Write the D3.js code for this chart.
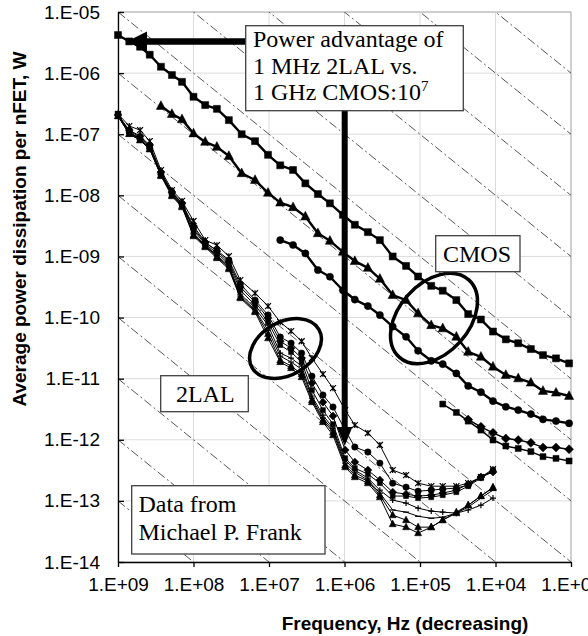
<!DOCTYPE html>
<html>
<head>
<meta charset="utf-8">
<script src="https://cdn.jsdelivr.net/npm/d3@7"></script>
<style>
  body { margin: 0; background: #fff; }
  svg text { font-family: "Liberation Sans", Arial, sans-serif; fill: #000; }
  .note { font-family: "Liberation Serif", "Times New Roman", serif; font-size: 24px; }
</style>
</head>
<body>
<svg id="chart" width="588" height="636"></svg>
<script>
// axis ticks
var xTicks = [1e9, 1e8, 1e7, 1e6, 1e5, 1e4, 1e3];
var yTicks = [1e-14, 1e-13, 1e-12, 1e-11, 1e-10, 1e-9, 1e-8, 1e-7, 1e-6, 1e-5];
// constant-energy guide lines (J per cycle)
var energyLines = [1e-23, 1e-22, 1e-21, 1e-20, 1e-19, 1e-18, 1e-17, 1e-16, 1e-15, 1e-14, 1e-13, 1e-12, 1e-11, 1e-10, 1e-9, 1e-8];

// CMOS frequencies, Hz (series below are aligned to the end of this list)
var cmosFreq = [1.0e9, 7.1e8, 5.1e8, 3.8e8, 2.7e8, 1.93e8, 1.42e8, 1.0e8, 7.0e7, 4.9e7, 3.4e7, 2.3e7, 1.53e7, 1.03e7,
  7.1e6, 4.8e6, 3.3e6, 2.25e6, 1.56e6, 1.05e6, 7.3e5, 4.9e5, 3.4e5, 2.3e5, 1.53e5, 1.06e5, 7.1e4, 5.0e4, 3.3e4,
  2.3e4, 1.56e4, 1.08e4, 7.3e3, 5.0e3, 3.4e3, 2.35e3, 1.58e3, 1.06e3];
var cmosSquare = [4.2e-6, 3.3e-6, 2.7e-6, 2.0e-6, 1.27e-6, 9.3e-7, 7.2e-7, 4.1e-7, 3.0e-7, 2.6e-7, 1.7e-7, 1.0e-7,
  7.7e-8, 4.6e-8, 3.1e-8, 2.6e-8, 1.57e-8, 1.05e-8, 7.4e-9, 4.8e-9, 3.3e-9, 2.5e-9, 1.85e-9, 1.0e-9, 7.0e-10,
  4.7e-10, 3.3e-10, 2.75e-10, 1.93e-10, 1.14e-10, 9.3e-11, 5.9e-11, 4.4e-11, 3.8e-11, 3.05e-11, 2.43e-11, 2.15e-11, 1.78e-11];
var cmosTriangle = [2.9e-7, 2.14e-7, 1.75e-7, 1.03e-7, 7.5e-8, 6.2e-8, 4.4e-8, 2.3e-8, 1.78e-8, 1.1e-8, 7.6e-9,
  6.4e-9, 4.5e-9, 2.4e-9, 1.8e-9, 1.19e-9, 8.4e-10, 6.5e-10, 4.3e-10, 2.33e-10, 1.93e-10, 1.17e-10, 7.5e-11,
  6.65e-11, 4.85e-11, 2.75e-11, 2.28e-11, 1.57e-11, 1.15e-11, 1.01e-11, 8.6e-12, 6.3e-12, 5.9e-12, 5.2e-12];
var cmosCircle = [1.85e-9, 1.54e-9, 1.12e-9, 6.0e-10, 4.65e-10, 2.8e-10, 1.97e-10, 1.54e-10, 1.1e-10, 7.1e-11,
  4.85e-11, 2.86e-11, 1.96e-11, 1.73e-11, 1.22e-11, 7.6e-12, 6.0e-12, 4.3e-12, 3.47e-12, 3.06e-12, 2.63e-12,
  2.16e-12, 2.02e-12, 1.86e-12];
var cmosLowSquare = [3.84e-12, 2.8e-12, 2.02e-12, 1.44e-12, 9.9e-13, 7.9e-13, 7.2e-13, 6.4e-13, 5.3e-13, 4.96e-13, 4.5e-13];
var cmosLowDiamond = [2.14e-12, 1.63e-12, 1.3e-12, 1.05e-12, 9.9e-13, 8.9e-13, 7.5e-13, 7.5e-13, 7.0e-13];

// 2LAL frequencies, Hz
var lalFreq = [1.0e9, 7.1e8, 5.1e8, 3.8e8, 2.7e8, 1.93e8, 1.42e8, 1.0e8, 7.0e7, 4.9e7, 3.4e7, 2.4e7, 1.53e7, 1.03e7,
  7.1e6, 5.1e6, 3.7e6, 2.7e6, 1.93e6, 1.42e6, 9.8e5, 7.3e5, 4.9e5, 3.4e5, 2.3e5, 1.53e5, 1.06e5, 7.1e4, 5.0e4,
  3.3e4, 2.3e4, 1.56e4, 1.08e4];
var lalStar = [2.14e-7, 1.36e-7, 1.17e-7, 7.7e-8, 2.59e-8, 1.22e-8, 8.1e-9, 3.8e-9, 1.85e-9, 1.53e-9, 1.01e-9, 4.1e-10,
  2.51e-10, 1.54e-10, 8.4e-11, 6.0e-11, 4.1e-11, 2.17e-11, 1.19e-11, 7.0e-12, 3.06e-12, 1.74e-12, 1.29e-12, 8.2e-13,
  3.19e-13, 2.64e-13, 1.95e-13, 1.74e-13, 1.74e-13, 1.74e-13, 1.95e-13, 2.45e-13, 3.31e-13];
var lalCircle = [2.14e-7, 1.09e-7, 8.3e-8, 5.9e-8, 2.23e-8, 1.09e-8, 7.2e-9, 2.91e-9, 1.66e-9, 1.27e-9, 8.7e-10, 3.53e-10,
  1.93e-10, 1.1e-10, 4.8e-11, 3.82e-11, 2.62e-11, 1.1e-11, 5.4e-12, 3.43e-12, 1.44e-12, 7.6e-13, 6.3e-13, 4.15e-13,
  1.95e-13, 1.68e-13, 1.44e-13, 1.5e-13, 1.56e-13, 1.62e-13, 1.81e-13, 2.45e-13, 3.07e-13];
var lalSquare = [2.06e-7, 1.13e-7, 9.0e-8, 6.4e-8, 2.31e-8, 1.13e-8, 7.2e-9, 2.7e-9, 1.59e-9, 1.14e-9, 7.5e-10, 2.82e-10,
  1.6e-10, 8.4e-11, 3.54e-11, 2.72e-11, 1.87e-11, 6.5e-12, 3.06e-12, 1.8e-12, 5.0e-13, 3.44e-13, 2.74e-13, 1.95e-13,
  1.2e-13, 1.2e-13, 1.11e-13, 1.15e-13, 1.24e-13, 1.39e-13, 1.74e-13, 2.36e-13, 3.19e-13];
var lalDiamond = [2.06e-7, 1.17e-7, 9.3e-8, 6.65e-8, 2.4e-8, 1.13e-8, 7.5e-9, 3.14e-9, 1.72e-9, 1.22e-9, 8.1e-10, 3.15e-10,
  1.79e-10, 9.8e-11, 4.1e-11, 3.16e-11, 2.17e-11, 8.5e-12, 4.13e-12, 2.44e-12, 6.8e-13, 4.31e-13, 3.19e-13, 2.19e-13,
  1.39e-13, 1.29e-13, 1.2e-13, 1.24e-13, 1.34e-13, 1.5e-13, 1.88e-13, 2.45e-13, 2.96e-13];
var lalPlus = [1.98e-7, 1.05e-7, 8.7e-8, 6.2e-8, 2.23e-8, 1.05e-8, 6.9e-9, 2.41e-9, 1.53e-9, 1.05e-9, 7.0e-10, 2.42e-10,
  1.43e-10, 7.5e-11, 2.62e-11, 2.17e-11, 1.61e-11, 5.2e-12, 2.53e-12, 1.55e-12, 4.65e-13, 3.19e-13, 2.36e-13, 1.5e-13,
  1.03e-13, 9.2e-14, 7.6e-14, 6.8e-14, 6.55e-14, 6.3e-14, 7.1e-14, 8.5e-14, 1.11e-13];
var lalDash = [1.98e-7, 1.05e-7, 8.3e-8, 5.9e-8, 2.15e-8, 1.01e-8, 6.7e-9, 2.32e-9, 1.48e-9, 1.01e-9, 6.7e-10, 2.25e-10,
  1.33e-10, 6.2e-11, 2.34e-11, 1.87e-11, 1.43e-11, 4.8e-12, 2.26e-12, 1.44e-12, 4.15e-13, 2.96e-13, 2.19e-13, 1.34e-13,
  7.1e-14, 6.55e-14, 5.6e-14, 5.2e-14, 5.4e-14, 6.3e-14, 7.9e-14, 1.11e-13, 1.5e-13];
var lalTriangle = [1.98e-7, 1.01e-7, 8.0e-8, 5.7e-8, 2.15e-8, 1.01e-8, 6.7e-9, 2.24e-9, 1.48e-9, 9.8e-10, 6.5e-10, 2.16e-10,
  1.28e-10, 5.4e-11, 2.01e-11, 1.61e-11, 1.19e-11, 4.46e-12, 2.1e-12, 1.33e-12, 3.85e-13, 2.64e-13, 2.11e-13, 1.24e-13,
  5.85e-14, 4.85e-14, 3.72e-14, 3.72e-14, 4.85e-14, 6.3e-14, 8.5e-14, 1.2e-13, 1.68e-13];
var lalTriangle2 = [1.98e-7, 1.01e-7, 8.0e-8, 5.7e-8, 2.07e-8, 9.7e-9, 6.4e-9, 2.15e-9, 1.42e-9, 9.4e-10, 6.2e-10, 2.08e-10,
  1.23e-10, 4.6e-11, 1.87e-11, 1.49e-11, 1.06e-11, 4.13e-12, 1.95e-12, 1.19e-12, 3.57e-13, 2.45e-13, 1.95e-13, 1.15e-13,
  4.17e-14, 3.72e-14, 2.97e-14, 3.72e-14, 4.85e-14, 6.55e-14, 8.5e-14, 1.2e-13, 1.62e-13];

var svg = d3.select("#chart");
var plotL = 118, plotR = 571, plotT = 12, plotB = 562;

var x = d3.scaleLog().domain([1e9, 1e3]).range([plotL, plotR]);
var y = d3.scaleLog().domain([1e-14, 1e-5]).range([plotB, plotT]);

svg.append("defs").append("clipPath").attr("id", "plotclip")
    .append("rect").attr("x", plotL).attr("y", plotT)
    .attr("width", plotR - plotL).attr("height", plotB - plotT);

// gridlines
svg.append("g").selectAll("line").data(xTicks).enter().append("line")
    .attr("x1", function (d) { return x(d); }).attr("x2", function (d) { return x(d); })
    .attr("y1", plotT).attr("y2", plotB)
    .attr("stroke", "#dcdcdc").attr("stroke-width", 1);
svg.append("g").selectAll("line").data(yTicks).enter().append("line")
    .attr("x1", plotL).attr("x2", plotR)
    .attr("y1", function (d) { return y(d); }).attr("y2", function (d) { return y(d); })
    .attr("stroke", "#dcdcdc").attr("stroke-width", 1);

// plot border (top / right)
svg.append("path")
    .attr("d", "M" + plotL + "," + plotT + "H" + plotR + "V" + plotB)
    .attr("fill", "none").attr("stroke", "#b0b0b0").attr("stroke-width", 1);

// constant-energy diagonals
svg.append("g").attr("clip-path", "url(#plotclip)")
    .selectAll("line").data(energyLines).enter().append("line")
    .attr("x1", x(1e9)).attr("y1", function (d) { return y(d * 1e9); })
    .attr("x2", x(1e3)).attr("y2", function (d) { return y(d * 1e3); })
    .attr("stroke", "#444").attr("stroke-width", 0.9)
    .attr("stroke-dasharray", "9,3,2,3");

// series
function seriesOf(freq, vals, marker, size, width) {
    var f = freq.slice(freq.length - vals.length);
    return { pts: vals.map(function (v, i) { return [f[i], v]; }), marker: marker, size: size, width: width };
}

var series = [
    seriesOf(lalFreq, lalStar, "star", 3, 1),
    seriesOf(lalFreq, lalCircle, "circle", 3.2, 1),
    seriesOf(lalFreq, lalSquare, "square", 5, 1),
    seriesOf(lalFreq, lalDiamond, "diamond", 4, 1),
    seriesOf(lalFreq, lalPlus, "plus", 3, 1),
    seriesOf(lalFreq, lalDash, "dash", 3, 1),
    seriesOf(lalFreq, lalTriangle, "triangle", 3.5, 1),
    seriesOf(lalFreq, lalTriangle2, "triangle", 3.5, 1),
    seriesOf(cmosFreq, cmosLowSquare, "square", 6, 1.5),
    seriesOf(cmosFreq, cmosLowDiamond, "diamond", 4.5, 1.5),
    seriesOf(cmosFreq, cmosCircle, "circle", 3.6, 2.4),
    seriesOf(cmosFreq, cmosTriangle, "triangle", 4.6, 2.4),
    seriesOf(cmosFreq, cmosSquare, "square", 7, 2.4)
];

var line = d3.line()
    .x(function (d) { return x(d[0]); })
    .y(function (d) { return y(d[1]); });

function markerPath(type, s) {
    if (type === "circle") return d3.symbol(d3.symbolCircle, Math.PI * s * s)();
    if (type === "square") return d3.symbol(d3.symbolSquare, s * s)();
    if (type === "diamond") return "M0," + (-s) + "L" + s + ",0L0," + s + "L" + (-s) + ",0Z";
    if (type === "triangle") return "M0," + (-s * 1.15) + "L" + s + "," + (s * 0.75) + "L" + (-s) + "," + (s * 0.75) + "Z";
    if (type === "star") return "M" + (-s) + "," + (-s) + "L" + s + "," + s + "M" + (-s) + "," + s + "L" + s + "," + (-s) +
        "M0," + (-s) + "V" + s;
    if (type === "plus") return "M" + (-s) + ",0H" + s + "M0," + (-s) + "V" + s;
    return "M" + (-s) + ",0H" + s;
}

var sg = svg.append("g");
series.forEach(function (s) {
    sg.append("path")
        .attr("d", line(s.pts))
        .attr("fill", "none").attr("stroke", "#000")
        .attr("stroke-width", s.width).attr("stroke-linejoin", "round");
    var open = s.marker === "star" || s.marker === "plus" || s.marker === "dash";
    sg.append("g").selectAll("path").data(s.pts).enter().append("path")
        .attr("transform", function (d) { return "translate(" + x(d[0]) + "," + y(d[1]) + ")"; })
        .attr("d", markerPath(s.marker, s.size))
        .attr("fill", open ? "none" : "#000")
        .attr("stroke", "#000").attr("stroke-width", open ? 1.2 : 0.5);
});

// ellipses around groups
svg.append("ellipse")
    .attr("transform", "translate(285.5,348.5) rotate(-30)")
    .attr("rx", 38.5).attr("ry", 26.5)
    .attr("fill", "none").attr("stroke", "#000").attr("stroke-width", 3.5);
svg.append("ellipse")
    .attr("transform", "translate(434,318.5) rotate(-48)")
    .attr("rx", 52).attr("ry", 35)
    .attr("fill", "none").attr("stroke", "#000").attr("stroke-width", 3.5);

// annotation boxes
function box(x0, y0, w, h) {
    svg.append("rect").attr("x", x0).attr("y", y0).attr("width", w).attr("height", h)
        .attr("fill", "#fff").attr("stroke", "#404040").attr("stroke-width", 1.3);
}
function note(tx, ty, str) {
    return svg.append("text").attr("class", "note").attr("x", tx).attr("y", ty).text(str);
}

// arrows
svg.append("line").attr("x1", 144).attr("x2", 247).attr("y1", 41.5).attr("y2", 41.5)
    .attr("stroke", "#000").attr("stroke-width", 6.5);
svg.append("path").attr("d", "M127,41.5L147,31.5L147,51.5Z").attr("fill", "#000");
svg.append("line").attr("x1", 344.7).attr("x2", 344.7).attr("y1", 110).attr("y2", 430)
    .attr("stroke", "#000").attr("stroke-width", 6);
svg.append("path").attr("d", "M344.7,446L337,427L352.4,427Z").attr("fill", "#000");

box(245.7, 25.7, 217.6, 85);
note(253, 47, "Power advantage of");
note(253, 73.5, "1 MHz 2LAL vs.");
var t3 = note(253, 99.5, "1 GHz CMOS:10");
t3.append("tspan").attr("dy", -9).attr("font-size", 15).text("7");

box(435.7, 235.7, 84.3, 36);
note(443, 261.5, "CMOS");

box(160.7, 375.7, 87.6, 36);
note(176, 401.5, "2LAL");

box(131.7, 485.7, 193.3, 68.3);
note(138.5, 512, "Data from");
note(138.5, 540, "Michael P. Frank");

// axes
var xAxis = d3.axisBottom(x).tickValues(xTicks)
    .tickFormat(function (d) { return "1.E+" + d3.format("02d")(Math.round(Math.log10(d))); })
    .tickSize(5).tickSizeOuter(0).tickPadding(11);
var gx = svg.append("g").attr("transform", "translate(0," + plotB + ")").call(xAxis);
gx.attr("font-size", 19).attr("font-family", null);
gx.selectAll("text").style("font-size", "19px").attr("fill", "#000");
gx.selectAll("line").attr("stroke", "#000").attr("stroke-width", 1.3);
gx.select(".domain").attr("stroke", "#000").attr("stroke-width", 1.3);

var yAxis = d3.axisLeft(y).tickValues(yTicks)
    .tickFormat(function (d) { return "1.E-" + d3.format("02d")(-Math.round(Math.log10(d))); })
    .tickSize(-6).tickSizeOuter(0).tickPadding(18);
var gy = svg.append("g").attr("transform", "translate(" + plotL + ",0)").call(yAxis);
gy.attr("font-size", 19).attr("font-family", null);
gy.selectAll("text").style("font-size", "19px").attr("fill", "#000");
gy.selectAll("line").attr("stroke", "#000").attr("stroke-width", 1.3);
gy.select(".domain").attr("stroke", "#000").attr("stroke-width", 1.3);

// axis titles
svg.append("text")
    .attr("x", 405).attr("y", 630)
    .attr("text-anchor", "middle").attr("font-size", 19).attr("font-weight", "bold")
    .text("Frequency, Hz (decreasing)");
svg.append("text")
    .attr("transform", "translate(26,229) rotate(-90)")
    .attr("text-anchor", "middle").attr("font-size", 19).attr("font-weight", "bold")
    .text("Average power dissipation per nFET, W");
</script>
</body>
</html>
